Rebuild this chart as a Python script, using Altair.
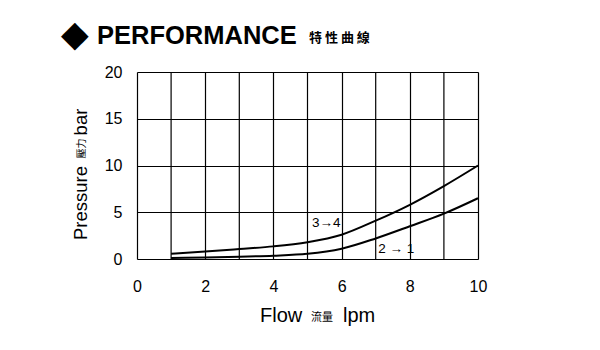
import altair as alt
import pandas as pd

flow = [1, 2, 3, 4, 5, 6, 7, 8, 9, 10]
p_34 = [0.57, 0.8, 1.07, 1.35, 1.8, 2.6, 4.1, 5.8, 7.8, 10.0]
p_21 = [0.1, 0.17, 0.25, 0.35, 0.55, 1.1, 2.2, 3.5, 4.85, 6.5]
x_ticks = [0, 2, 4, 6, 8, 10]
y_ticks = [0, 5, 10, 15, 20]
labels = ["3→4", "2 → 1"]
label_x = [5.55, 7.6]
label_y = [3.9, 1.1]

rows = []
for f, a, b in zip(flow, p_34, p_21):
    rows.append({"flow": f, "p": a, "series": "3→4"})
    rows.append({"flow": f, "p": b, "series": "2→1"})
df = pd.DataFrame(rows)
lab = pd.DataFrame({"t": labels, "x": label_x, "y": label_y})

FONT = "Liberation Sans"
W, H = 341, 187

xs = alt.Scale(domain=[0, 10], nice=False)
ys = alt.Scale(domain=[0, 20], nice=False)

base = alt.Chart(df)

lines = base.mark_line(color="black", strokeWidth=2, interpolate="monotone").encode(
    x=alt.X("flow:Q", scale=xs,
            axis=alt.Axis(values=x_ticks, title=None, grid=True, gridColor="black",
                          gridWidth=1.2, gridOpacity=1, labelFlush=False,
                          domain=False, ticks=False, labelFontSize=16, labelFont=FONT,
                          labelColor="black", labelPadding=19)),
    y=alt.Y("p:Q", scale=ys,
            axis=alt.Axis(values=y_ticks, title=None, grid=True, gridColor="black",
                          gridWidth=1.2, gridOpacity=1, labelFlush=False,
                          domain=False, ticks=False, labelFontSize=16, labelFont=FONT,
                          labelColor="black", labelPadding=15)),
    detail="series:N",
)

# extra vertical gridlines at odd x positions
vgrid = alt.Chart(pd.DataFrame({"v": [1, 3, 5, 7, 9]})).mark_rule(
    color="black", strokeWidth=1.2).encode(x=alt.X("v:Q", scale=xs))

txt = alt.Chart(lab).mark_text(font=FONT, fontSize=13.5, color="black").encode(
    x=alt.X("x:Q", scale=xs), y=alt.Y("y:Q", scale=ys), text="t:N")

def t(text, x, y, size, weight="normal", angle=0, align="left", font=FONT):
    kw = dict(text=text, font=font, fontSize=size, fontWeight=weight, color="black",
              align=align, baseline="middle")
    if angle:
        kw["angle"] = angle
    return alt.Chart(pd.DataFrame({"a": [0]})).mark_text(**kw).encode(
        x=alt.value(x), y=alt.value(y))

# positions relative to plot origin (137, 72)
ox, oy = 137, 72
titles = [
    t("◆", 61 - ox, 35 - oy, 36, font="DejaVu Sans"),
    t("PERFORMANCE", 97 - ox, 36 - oy, 25.5, weight="bold"),
    t("特 性 曲 線", 309 - ox, 38 - oy, 13, weight="bold", font="Noto Sans CJK TC"),
    t("Flow", 260 - ox, 316 - oy, 20),
    t("流量", 311 - ox, 318 - oy, 11, font="Noto Sans CJK TC"),
    t("lpm", 343 - ox, 316 - oy, 20),
    t("Pressure", 81 - ox, 203 - oy, 18.5, angle=270, align="center"),
    t("壓力", 82 - ox, 148.5 - oy, 10, angle=270, align="center", font="Noto Sans CJK TC"),
    t("bar", 81 - ox, 122 - oy, 18.5, angle=270, align="center"),
]

chart = alt.layer(vgrid, lines, txt, *titles).properties(
    width=W, height=H,
    padding={"left": ox, "top": oy, "right": 600 - ox - W, "bottom": 350 - oy - H},
    autosize=alt.AutoSizeParams(type="none"),
).configure_view(stroke="black", strokeWidth=1.5).configure(background="white")

chart.save("out.html", embed_options={"renderer": "svg", "actions": False})
